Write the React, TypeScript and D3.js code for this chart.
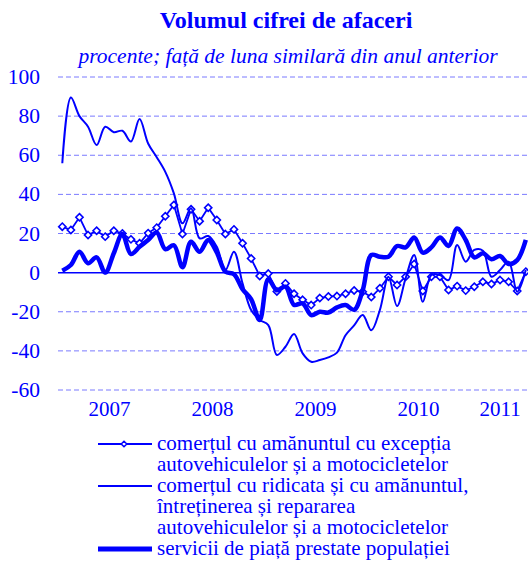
import React from "react";
import * as d3 from "d3";

// luni: ian 2007 - iul 2011
const years = ["2007", "2008", "2009", "2010", "2011"];
const monthsPerYear = [12, 12, 12, 12, 7];

// comertul cu amanuntul (cu markeri)
const retail = [
  23.5, 21.8, 28.3, 19.2, 21.4, 18.4, 21.4, 20, 17, 15,
  20.2, 23, 28.8, 34.6, 19.7, 32.4, 26.3, 33.2, 26.9, 19.7,
  22.1, 15, 7.2, -1.7, -0.5, -9.6, -5.5, -10.8, -13.9, -16.6,
  -13, -12.2, -12, -10.8, -9.1, -9.8, -12.5, -8, -2.1, -6.3,
  -2.1, 4.4, -9.4, -2.1, -2.1, -8.9, -6.9, -9.2, -7.2, -4.7,
  -5.8, -3.8, -4.7, -9.4, 0.5,
];

// comertul cu ridicata si cu amanuntul (linie subtire)
const wholesale = [
  55.9, 89.5, 80, 74.6, 65.2, 74.6, 71.8, 72.5, 67, 78.5,
  66, 59, 51.5, 40.5, 25.2, 32.9, 17.5, 18.7, 13.2, 1.3,
  10.7, -5.5, -19.1, -24.2, -26.8, -42.1, -37.9, -31.4, -41.3, -45.6,
  -44.7, -43.3, -40.9, -32, -27, -21.7, -29.5, -19.1, -2.1, -17.1,
  -2.9, 9, -14.9, -1.2, -1.2, -3.8, 14.1, 5.6, 11.6, 11.2,
  -2.1, 1.3, 5.6, -9.8, 1.3,
];

// servicii de piata prestate populatiei (linie groasa)
const services = [
  1, 3.9, 10.7, 4.8, 7.8, 0, 9.9, 19.7, 9.5, 13.2,
  16.7, 20.5, 12, 14, 2.8, 15.8, 10.7, 16.7, 10.3, 0.5,
  -0.8, -8.5, -13.6, -24.2, -3.4, -9, -7.2, -16.5, -15.7, -21.7,
  -20, -20.4, -17.8, -16.6, -19, -9, 9, 8.1, 8.1, 13.6,
  12.9, 18, 10.2, 12.9, 18, 13.6, 22.6, 16.7, 7.8, 9.9,
  6.8, 8.5, 4.4, 6.4, 16.7,
];

const yTicks = [100, 80, 60, 40, 20, 0, -20, -40, -60];

const legendLabels = [
  ["comerțul cu amănuntul cu excepția", "autovehiculelor și a motocicletelor"],
  [
    "comerțul cu ridicata și cu amănuntul,",
    "întreținerea și repararea",
    "autovehiculelor și a motocicletelor",
  ],
  ["servicii de piață prestate populației"],
];

const W = 528;
const H = 562;
const BLUE = "#0000ff";
const GRID = "#7a7aff";
const FONT = "'Liberation Serif', 'Times New Roman', serif";

export default function App() {
  const nMonths = d3.sum(monthsPerYear);
  const monthW = 103 / 12;
  const left = 58;

  const x = d3
    .scaleLinear()
    .domain([0, nMonths])
    .range([left, left + nMonths * monthW]);
  const y = d3.scaleLinear().domain([-60, 100]).range([390, 77]);

  const px = (i: number) => x(i + 0.5);

  const straight = d3
    .line<number>()
    .x((_, i) => px(i))
    .y((d) => y(d));
  const smooth = d3
    .line<number>()
    .x((_, i) => px(i))
    .y((d) => y(d))
    .curve(d3.curveCatmullRom.alpha(0.5));

  // granite de an
  const yearStarts = d3.cumsum([0, ...monthsPerYear]);

  const diamond = (r: number) => `M0,${-r}L${r},0L0,${r}L${-r},0Z`;

  const legendBase = [450, 492, 555];
  const lineH = 21;

  return (
    <svg
      width={W}
      height={H}
      fontFamily={FONT}
      style={{ position: "absolute", left: 0, top: 0 }}
    >
      <rect width={W} height={H} fill="#fff" />
      <text
        x={286}
        y={28}
        textAnchor="middle"
        fontSize={24}
        fontWeight="bold"
        fill={BLUE}
      >
        Volumul cifrei de afaceri
      </text>
      <text
        x={288}
        y={63}
        textAnchor="middle"
        fontSize={21.5}
        fontStyle="italic"
        fill={BLUE}
      >
        procente; față de luna similară din anul anterior
      </text>

      <g className="grid">
        {yTicks
          .filter((t) => t !== 0)
          .map((t) => (
            <line
              key={t}
              x1={left}
              x2={W}
              y1={y(t)}
              y2={y(t)}
              stroke={GRID}
              strokeWidth={1}
              strokeDasharray="5,3"
            />
          ))}
        {yearStarts.slice(0, years.length).map((s) => (
          <line
            key={s}
            x1={x(s)}
            x2={x(s)}
            y1={y(100)}
            y2={y(-60)}
            stroke={GRID}
            strokeWidth={1}
            strokeDasharray="5,3"
          />
        ))}
        <line
          x1={left}
          x2={W}
          y1={y(0)}
          y2={y(0)}
          stroke={BLUE}
          strokeWidth={1.5}
        />
      </g>

      <g className="y-axis" fill={BLUE} fontSize={21.5} textAnchor="end">
        {yTicks.map((t) => (
          <text key={t} x={40} y={y(t) + 7}>
            {t}
          </text>
        ))}
      </g>
      <g className="x-axis" fill={BLUE} fontSize={21} textAnchor="middle">
        {years.map((yr, k) => (
          <text
            key={yr}
            x={(x(yearStarts[k]) + x(yearStarts[k + 1])) / 2}
            y={416}
          >
            {yr}
          </text>
        ))}
      </g>

      <path d={straight(retail) || ""} fill="none" stroke={BLUE} strokeWidth={1.8} />
      {retail.map((v, i) => (
        <path
          key={i}
          d={diamond(3.6)}
          transform={`translate(${px(i)},${y(v)})`}
          fill="#fff"
          stroke={BLUE}
          strokeWidth={1.6}
        />
      ))}
      <path d={smooth(wholesale) || ""} fill="none" stroke={BLUE} strokeWidth={2} />
      <path
        d={smooth(services) || ""}
        fill="none"
        stroke={BLUE}
        strokeWidth={4.5}
        strokeLinejoin="round"
      />

      <g className="legend" fill={BLUE} fontSize={21}>
        {legendLabels.map((lines, k) => {
          const b = legendBase[k];
          const sy = b - 6;
          return (
            <g key={k}>
              <line
                x1={98}
                x2={152}
                y1={sy}
                y2={sy}
                stroke={BLUE}
                strokeWidth={k === 2 ? 5 : 2}
              />
              {k === 0 && (
                <path
                  d={diamond(2.8)}
                  transform={`translate(124,${sy})`}
                  fill="#fff"
                  stroke={BLUE}
                  strokeWidth={1.5}
                />
              )}
              {lines.map((t, j) => (
                <text key={j} x={157} y={b + j * lineH}>
                  {t}
                </text>
              ))}
            </g>
          );
        })}
      </g>
    </svg>
  );
}
